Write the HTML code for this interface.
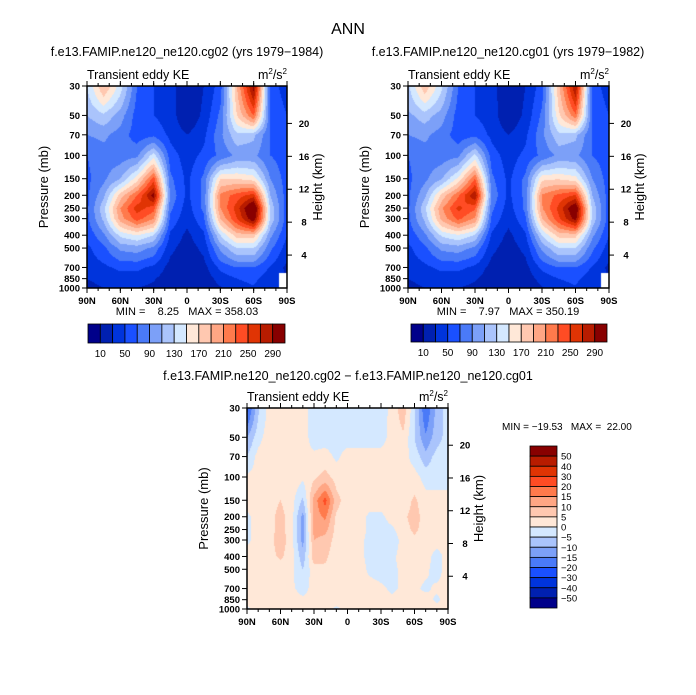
<!DOCTYPE html>
<html><head><meta charset="utf-8">
<style>
body{margin:0;background:#fff;}
#wrap{position:relative;width:696px;height:695px;overflow:hidden;font-family:"Liberation Sans",sans-serif;color:#000;}
canvas{position:absolute;}
text{white-space:pre;}
</style></head>
<body>
<div id="wrap">
<svg id="svg" width="696" height="695" style="position:absolute;left:0;top:0"></svg>
</div>
<script>
// ---- data ----
const latsTop = [90,75,60,45,30,15,0,-15,-30,-45,-60,-75,-90];
const levs = [30,50,70,100,150,200,250,300,400,500,700,850,1000];
const keLeft = [
[130,190,140,70,50,40,10,30,60,190,300,60,40],
[110,125,100,60,50,40,12,35,75,170,230,70,50],
[90,95,80,60,65,45,30,45,85,125,115,70,55],
[70,80,80,85,140,60,40,55,75,95,95,70,60],
[65,85,110,160,240,75,45,75,170,170,160,90,60],
[65,105,180,230,300,85,45,75,215,240,260,110,60],
[65,125,210,260,240,75,40,75,210,260,330,125,60],
[65,115,200,240,210,65,35,65,190,250,310,125,60],
[55,85,135,150,130,45,25,45,130,180,180,95,50],
[45,65,95,100,85,35,20,35,95,130,130,75,40],
[38,45,55,55,45,22,18,22,55,70,70,48,25],
[30,35,40,40,32,18,15,18,38,50,55,38,null],
[25,30,35,30,25,14,10,14,28,42,48,30,null]];
const keRight = [
[125,185,135,70,50,40,10,30,60,185,290,60,40],
[105,120,100,60,50,40,12,35,75,165,225,70,50],
[90,95,80,60,65,45,30,45,85,125,115,70,55],
[70,80,80,85,135,60,40,55,75,95,95,70,60],
[65,85,108,155,230,75,45,75,165,168,158,90,60],
[65,105,176,226,290,85,45,75,212,236,252,110,60],
[65,125,206,256,234,75,40,75,208,256,318,125,60],
[65,115,196,236,206,65,35,65,188,246,300,125,60],
[55,85,133,148,128,45,25,45,130,178,178,95,50],
[45,65,95,100,85,35,20,35,95,130,130,75,40],
[38,45,55,55,45,22,18,22,55,70,70,48,25],
[30,35,40,40,32,18,15,18,38,50,55,38,null],
[25,30,35,30,25,14,10,14,28,42,48,30,null]];
const latsDiff = [90,80,70,60,50,40,30,20,10,0,-10,-20,-30,-40,-50,-60,-70,-80,-90];
const keDiff = [
[-22,-6,2,2,2,2,-2,-2,-2,-2,-2,-2,-3,2,8,-4,-20,-8,-3],
[-10,-2,3,2,2,2,-2,-2,-2,-2,-2,-2,-2,2,4,-5,-14,-7,-3],
[-5,2,3,3,2,1,1,2,-1,2,2,2,2,2,2,-2,-8,-3,-2],
[1,2,3,4,3,1,4,7,3,2,5,2,2,2,2,2,-2,-2,-2],
[2,2,3,5,2,-6,12,22,7,2,4,2,2,2,2,6,2,2,2],
[-1,2,3,7,2,-12,12,16,4,2,2,-1,-1,2,4,7,3,2,2],
[-1,2,3,7,2,-12,12,12,3,2,2,-1,-2,-1,3,6,3,2,2],
[-1,2,3,8,2,-12,10,8,3,2,1,-1,-2,-3,2,4,2,2,2],
[2,2,3,6,2,-8,8,6,2,2,1,-1,-2,-1,2,2,2,-2,2],
[2,2,2,2,1,-5,3,4,2,2,2,-1,-2,-1,1,2,1,-2,2],
[2,2,2,2,1,-2,2,2,2,2,2,2,1,-1,1,1,-1,1,2],
[2,2,2,2,2,1,2,2,2,2,2,2,2,1,2,2,2,-1,2],
[-1,2,2,2,2,2,2,2,-1,2,2,2,2,2,2,2,2,2,2]];
const levelsTop = [10,30,50,70,90,110,130,150,170,190,210,230,250,270,290];
const levelsDiff = [-50,-40,-30,-20,-15,-10,-5,0,5,10,15,20,30,40,50];
const cbTopLabels = ["10","50","90","130","170","210","250","290"];
const presTicks = [30,50,70,100,150,200,250,300,400,500,700,850,1000];
const heightTicks = [4,8,12,16,20];
const latTicks = ["90N","60N","30N","0","30S","60S","90S"];
const colors = ["#00008a","#0020b0","#0034dc","#1a50ff","#4a7af8","#7ca0f8","#aac4fc","#d4e8ff","#ffe8d8","#ffc8b0","#ffa684","#ff7a4c","#ff4c24","#e03404","#b81c00","#880000"];

// ---- helpers ----
const W = document.getElementById('wrap');
const S = document.getElementById('svg');
const NS = 'http://www.w3.org/2000/svg';
function interp(arr, v){
  const inc = arr[arr.length-1] > arr[0];
  for(let i=0;i<arr.length-1;i++){
    const a=arr[i], b=arr[i+1];
    if((inc && v>=a && v<=b) || (!inc && v<=a && v>=b)) return i + (v-a)/(b-a);
  }
  return 0;
}
function colorFor(v, levels){
  let k=0; while(k<levels.length && v>=levels[k]) k++; return colors[k];
}
function txt(x,y,s,size,anchor,name,extra){
  const t=document.createElementNS(NS,'text');
  t.setAttribute('x',x);t.setAttribute('y',y);t.setAttribute('font-size',size);
  t.setAttribute('text-anchor',anchor||'start');
  t.setAttribute('font-family','Liberation Sans, sans-serif');
  if(extra) for(const k in extra) t.setAttribute(k,extra[k]);
  
  
  t.textContent=s; S.appendChild(t); return t;
}
function line(x1,y1,x2,y2,w){
  const l=document.createElementNS(NS,'line');
  l.setAttribute('x1',x1);l.setAttribute('y1',y1);l.setAttribute('x2',x2);l.setAttribute('y2',y2);
  l.setAttribute('stroke','#000');l.setAttribute('stroke-width',w||1);
  
  
  S.appendChild(l);
}
function panel(name, x0, y0, x1, y1, lats, data, levels){
  const c=document.createElement('canvas');
  c.width=x1-x0; c.height=y1-y0; c.style.left=x0+'px'; c.style.top=y0+'px';
  
  
  W.insertBefore(c, S);
  const g=c.getContext('2d');
  const lnTop=Math.log(30), lnBot=Math.log(1000);
  for(let py=0;py<c.height;py++){
    const p=Math.exp(lnTop+(py+0.5)/c.height*(lnBot-lnTop));
    const fi=interp(levs,p); const i0=Math.min(Math.floor(fi),levs.length-2); const ti=fi-i0;
    for(let px=0;px<c.width;px++){
      const lat=90-(px+0.5)/c.width*180;
      const fj=interp(lats,lat); const j0=Math.min(Math.floor(fj),lats.length-2); const tj=fj-j0;
      const q=[[data[i0][j0],(1-ti)*(1-tj)],[data[i0][j0+1],(1-ti)*tj],[data[i0+1][j0],ti*(1-tj)],[data[i0+1][j0+1],ti*tj]];
      let v;
      if(q.some(e=>e[0]===null)){
        const nearest=q.slice().sort((m,n)=>n[1]-m[1])[0][0];
        if(nearest===null){g.fillStyle='#fff';g.fillRect(px,py,1,1);continue;}
        let sw=0,s=0; q.forEach(e=>{if(e[0]!==null){s+=e[0]*e[1];sw+=e[1];}}); v=s/sw;
      } else v=q.reduce((s,e)=>s+e[0]*e[1],0);
      g.fillStyle=colorFor(v,levels); g.fillRect(px,py,1,1);
    }
  }
  const r=document.createElementNS(NS,'rect');
  r.setAttribute('x',x0);r.setAttribute('y',y0);r.setAttribute('width',x1-x0);r.setAttribute('height',y1-y0);
  r.setAttribute('fill','none');r.setAttribute('stroke','#000');r.setAttribute('stroke-width',1.5);
  
  
  S.appendChild(r);
  const Y=p=>y0+Math.log(p/30)/Math.log(1000/30)*(y1-y0);
  presTicks.forEach(p=>{const y=Y(p);line(x0-5,y,x0,y);txt(x0-7,y+3.5,String(p),9.5,'end','pressure-tick-label',{'font-weight':'bold'});});
  heightTicks.forEach(h=>{const y=Y(1000*Math.exp(-h/7));line(x1,y,x1+5,y);txt(x1+17,y+3.5,String(h),9.5,'middle','height-tick-label',{'font-weight':'bold'});});
  latTicks.forEach((s,k)=>{const x=x0+k/6*(x1-x0);line(x,y1,x,y1+5);line(x,y0,x,y0-5);txt(x,y1+16,s,9.5,'middle','lat-tick-label',{'font-weight':'bold'});});
  for(let k=0;k<=18;k++){const x=x0+k/18*(x1-x0);line(x,y1,x,y1+3);line(x,y0,x,y0-3);}
  txt(x0-43,(y0+y1)/2,'Pressure (mb)',13,'middle','y-axis-title',{transform:`rotate(-90 ${x0-43} ${(y0+y1)/2})`,dy:'4'});
  txt(x1+31,(y0+y1)/2,'Height (km)',13,'middle','y2-axis-title',{transform:`rotate(-90 ${x1+31} ${(y0+y1)/2})`,dy:'4'});
  txt(x0,y0-7,'Transient eddy KE',12.5,'start','panel-left-string');
  const u=txt(x1,y0-7,'m',12.5,'end','units-label');
  u.innerHTML='m<tspan dy="-5" font-size="8">2</tspan><tspan dy="5">/s</tspan><tspan dy="-5" font-size="8">2</tspan>';
}
function hbar(name,x0,y0,x1,y1){
  const n=colors.length, w=(x1-x0)/n;
  colors.forEach((c,k)=>{const r=document.createElementNS(NS,'rect');
    r.setAttribute('x',x0+k*w);r.setAttribute('y',y0);r.setAttribute('width',w);r.setAttribute('height',y1-y0);
    r.setAttribute('fill',c);r.setAttribute('stroke','#000');r.setAttribute('stroke-width',0.8);
    
    
    S.appendChild(r);});
  cbTopLabels.forEach((s,k)=>txt(x0+(2*k+1)*w,y1+14,s,10,'middle',name+'-label'));
}
function vbar(name,x0,y0,x1,y1){
  const n=colors.length, h=(y1-y0)/n;
  colors.slice().reverse().forEach((c,k)=>{const r=document.createElementNS(NS,'rect');
    r.setAttribute('x',x0);r.setAttribute('y',y0+k*h);r.setAttribute('width',x1-x0);r.setAttribute('height',h);
    r.setAttribute('fill',c);r.setAttribute('stroke','#000');r.setAttribute('stroke-width',0.8);
    
    
    S.appendChild(r);});
  levelsDiff.slice().reverse().forEach((v,k)=>txt(x1+4,y0+(k+1)*h+3.5,String(v).replace('-','\u2212'),9.5,'start',name+'-label'));
}

txt(348,34,'ANN',16,'middle','figure-title');
panel('left-panel',87,86,287,288,latsTop,keLeft,levelsTop);
panel('right-panel',408,86,609,288,latsTop,keRight,levelsTop);
panel('diff-panel',247,408,448,609,latsDiff,keDiff,levelsDiff);

txt(187,56,'f.e13.FAMIP.ne120_ne120.cg02 (yrs 1979\u22121984)',12.5,'middle','left-panel-title');
txt(508,56,'f.e13.FAMIP.ne120_ne120.cg01 (yrs 1979\u22121982)',12.5,'middle','right-panel-title');
txt(348,380,'f.e13.FAMIP.ne120_ne120.cg02 \u2212 f.e13.FAMIP.ne120_ne120.cg01',12.5,'middle','diff-panel-title');
txt(187,315,'MIN =    8.25   MAX = 358.03',11,'middle','left-minmax');
txt(508,315,'MIN =    7.97   MAX = 350.19',11,'middle','right-minmax');
txt(502,430,'MIN = \u221219.53   MAX =  22.00',10,'start','diff-minmax');
hbar('left-colorbar',88,324,285,343);
hbar('right-colorbar',411,324,607,342);
vbar('diff-colorbar',530,446,557,608);
</script>
</body></html>
